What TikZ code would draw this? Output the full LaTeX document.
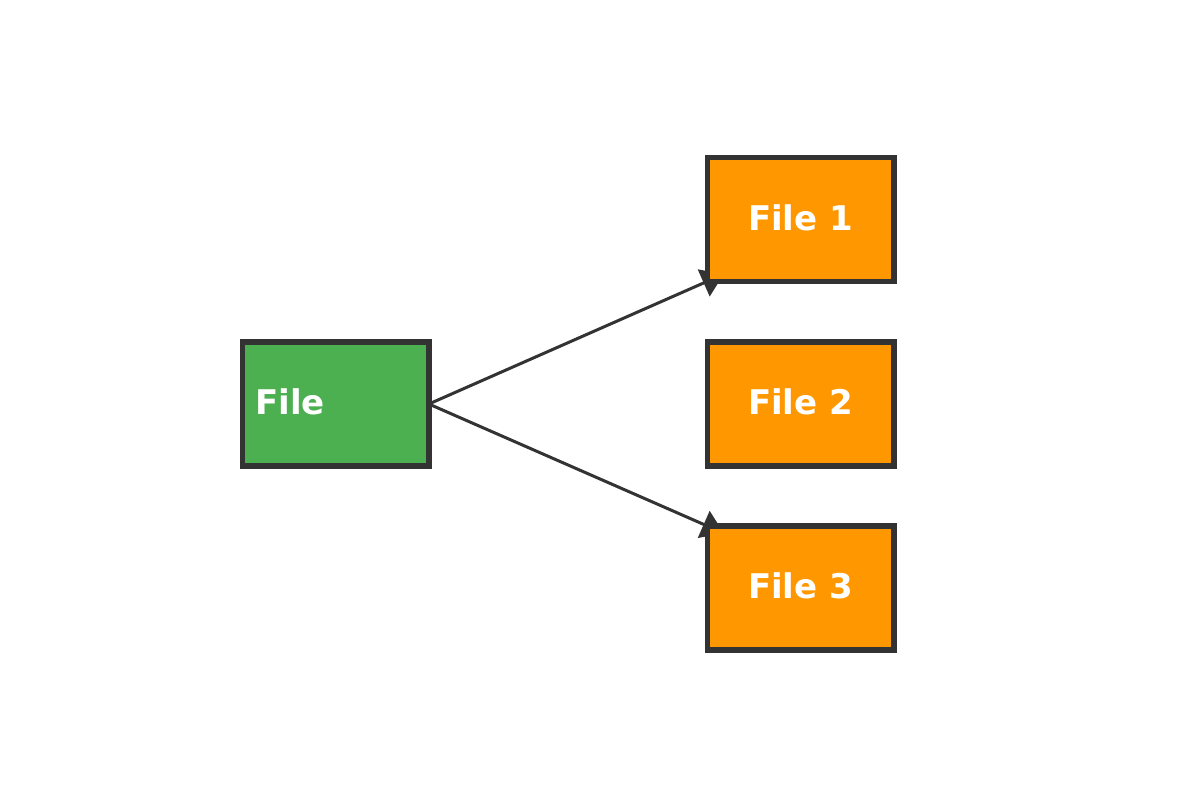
\documentclass[tikz,border=0pt]{standalone}
\usepackage{fontspec}
\setmainfont{DejaVu Sans}
\usetikzlibrary{arrows.meta,backgrounds}
\definecolor{edgegray}{HTML}{333333}
\definecolor{srcgreen}{HTML}{4CAF50}
\definecolor{partorange}{HTML}{FF9800}
\begin{document}
\begin{tikzpicture}[x=0.5pt,y=-0.5pt,
  filebox/.style={draw=edgegray, line width=2.75pt, minimum width=93.25pt, minimum height=62pt,
    inner sep=0pt, outer sep=0pt, text=white, text depth=2.2pt,
    font=\fontsize{17}{20}\selectfont\bfseries},
  srcbox/.style={filebox, fill=srcgreen, text width=80.45pt, align=left, inner xsep=6.4pt},
  partbox/.style={filebox, fill=partorange},
  link/.style={draw=edgegray, line width=1.5pt, -{Triangle[length=11pt,width=14.5pt]}, shorten >=-9pt}]
  \useasboundingbox (0,0) rectangle (1200,800);
  \node[srcbox]  (file) at (335.6,404) {File};
  \node[partbox] (f1) at (800.6,219.3) {File 1};
  \node[partbox] (f2) at (800.6,404) {File 2};
  \node[partbox] (f3) at (800.6,588) {File 3};
  % connectors go underneath, so the boxes hide the arrow tips
  \begin{scope}[on background layer]
    \draw[link] (file.east) -- (f1.south west);
    \draw[link] (file.east) -- (f3.north west);
  \end{scope}
\end{tikzpicture}
\end{document}
